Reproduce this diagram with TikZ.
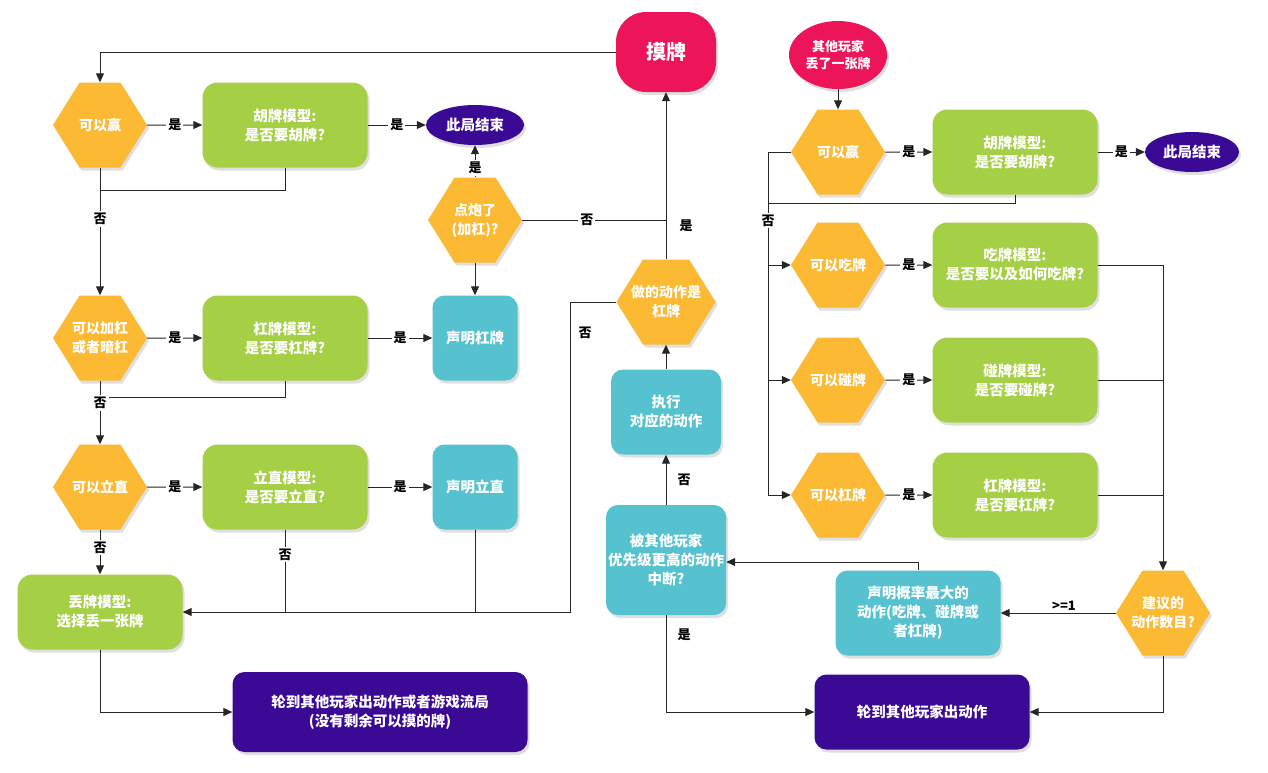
\documentclass[tikz,border=0pt]{standalone}
\usepackage{fontspec}
\setmainfont{Noto Sans CJK SC}
\usetikzlibrary{shapes.symbols,shapes.geometric,arrows.meta,shadows}
\definecolor{cor}{HTML}{FBB934}
\definecolor{cgr}{HTML}{A5CF45}
\definecolor{ctl}{HTML}{56C1CF}
\definecolor{cpu}{HTML}{3A0A94}
\definecolor{crd}{HTML}{EC1559}
\begin{document}
\begin{tikzpicture}[x=1pt,y=-1pt,
  base/.style={text=white,font=\bfseries\fontsize{14.5}{19}\selectfont,align=center,inner sep=2pt,drop shadow={opacity=0.25,shadow xshift=2pt,shadow yshift=-3pt}},
  hex/.style={base,signal,signal to=east and west,signal pointer angle=116,fill=cor,minimum width=94pt,minimum height=85pt,inner xsep=-12pt,font=\bfseries\fontsize{14}{19}\selectfont},
  gbox/.style={base,rounded corners=15pt,fill=cgr,minimum width=165pt,minimum height=85pt},
  tbox/.style={base,rounded corners=12pt,fill=ctl},
  pbox/.style={base,rounded corners=12pt,fill=cpu},
  oval/.style={base,ellipse,fill=cpu,minimum width=98pt,minimum height=40pt},
  ln/.style={draw=black!85,line width=1pt},
  ar/.style={ln,-{Triangle[length=9pt,width=8pt]}},
  lb/.style={fill=white,text=black,font=\bfseries\fontsize{13}{15}\selectfont,inner sep=2pt}]
\useasboundingbox (0,0) rectangle (1268,772);
% nodes
\node[base,rounded corners=30pt,fill=crd,minimum width=100pt,minimum height=80pt,font=\bfseries\fontsize{20}{24}\selectfont] (mo) at (666,52) {摸牌};
\node[base,ellipse,fill=crd,minimum width=98pt,minimum height=68pt,font=\bfseries\fontsize{13}{17}\selectfont] (other) at (838,55) {其他玩家\\丢了一张牌};
\node[hex] (win1) at (100,125) {可以赢};
\node[gbox] (hu1) at (285,125) {胡牌模型:\\是否要胡牌?};
\node[oval] (end1) at (475,125) {此局结束};
\node[hex] (pao) at (475,220) {点炮了\\(加杠)?};
\node[hex] (jg) at (100,338) {可以加杠\\或者暗杠};
\node[gbox] (gm1) at (285,338) {杠牌模型:\\是否要杠牌?};
\node[tbox,minimum width=85pt,minimum height=85pt] (sg) at (475,338) {声明杠牌};
\node[hex] (lz) at (100,487) {可以立直};
\node[gbox] (lzm) at (285,487) {立直模型:\\是否要立直?};
\node[tbox,minimum width=85pt,minimum height=85pt] (slz) at (475,487) {声明立直};
\node[gbox,minimum height=75pt] (diu) at (100,612) {丢牌模型:\\选择丢一张牌};
\node[pbox,minimum width=295pt,minimum height=80pt] (turn1) at (380,712) {轮到其他玩家出动作或者游戏流局\\(没有剩余可以摸的牌)};
\node[hex] (isg) at (666,302) {做的动作是\\杠牌};
\node[tbox,minimum width=110pt,minimum height=85pt] (exe) at (666,412) {执行\\对应的动作};
\node[tbox,minimum width=115pt,minimum height=110pt] (intr) at (666,560) {被其他玩家\\优先级更高的动作\\中断?};
\node[pbox,minimum width=215pt,minimum height=75pt] (turn2) at (922,712) {轮到其他玩家出动作};
\node[tbox,minimum width=165pt,minimum height=85pt] (decl) at (918,613) {声明概率最大的\\动作(吃牌、碰牌或\\者杠牌)};
\node[hex] (num) at (1163,613) {建议的\\动作数目?};
\node[hex] (win2) at (838,152) {可以赢};
\node[gbox] (hu2) at (1015,152) {胡牌模型:\\是否要胡牌?};
\node[oval,minimum width=94pt] (end2) at (1192,152) {此局结束};
\node[hex] (chi) at (838,265) {可以吃牌};
\node[gbox] (chim) at (1015,265) {吃牌模型:\\是否要以及如何吃牌?};
\node[hex] (peng) at (838,380) {可以碰牌};
\node[gbox] (pengm) at (1015,380) {碰牌模型:\\是否要碰牌?};
\node[hex] (gang) at (838,495) {可以杠牌};
\node[gbox] (gangm) at (1015,495) {杠牌模型:\\是否要杠牌?};
% left connectors
\draw[ar] (mo.west) -- (100,52) -- (win1.north);
\draw[ar] (win1) -- node[lb]{是} (hu1);
\draw[ar] (hu1) -- node[lb]{是} (end1);
\draw[ln] (hu1.south) -- (285,190) -- (100,190);
\draw[ar] (win1.south) -- node[lb,pos=0.4]{否} (jg.north);
\draw[ar] (pao.north) -- node[lb,pos=0.3]{是} (end1.south);
\draw[ar] (pao.south) -- (sg.north);
\draw[ln] (pao.east) -- node[lb,pos=0.45]{否} (666,220);
\draw[ar] (isg.north) -- node[lb,pos=0.2,xshift=20pt]{是} (mo.south);
\draw[ar] (jg) -- node[lb]{是} (gm1);
\draw[ar] (gm1) -- node[lb]{是} (sg);
\draw[ln] (gm1.south) -- (285,397) -- (100,397);
\draw[ar] (jg.south) -- node[lb,pos=0.35]{否} (lz.north);
\draw[ar] (lz) -- node[lb]{是} (lzm);
\draw[ar] (lzm) -- node[lb]{是} (slz);
\draw[ar] (lz.south) -- node[lb,pos=0.4]{否} (diu.north);
\draw[ln] (lzm.south) -- node[lb,pos=0.3]{否} (285,612);
\draw[ln] (slz.south) -- (475,612);
\draw[ar] (isg.west) -- (570,302) -- node[lb,pos=0.1,xshift=15pt]{否} (570,612) -- (diu.east);
\draw[ar] (diu.south) -- (100,712) -- (turn1.west);
% middle
\draw[ar] (exe.north) -- (isg.south);
\draw[ar] (intr.north) -- node[lb,xshift=18pt]{否} (exe.south);
\draw[ar] (intr.south) -- node[lb,pos=0.2,xshift=18pt]{是} (666,712) -- (turn2.west);
% right
\draw[ar] (other.south) -- (win2.north);
\draw[ar] (win2) -- node[lb]{是} (hu2);
\draw[ar] (hu2) -- node[lb]{是} (end2);
\draw[ln] (hu2.south) -- (1015,203) -- (768,203);
\draw[ln] (win2.west) -- (768,152) -- node[lb,pos=0.2]{否} (768,495);
\draw[ar] (768,265) -- (chi.west);
\draw[ar] (768,380) -- (peng.west);
\draw[ar] (768,495) -- (gang.west);
\draw[ar] (chi) -- node[lb]{是} (chim);
\draw[ar] (peng) -- node[lb]{是} (pengm);
\draw[ar] (gang) -- node[lb]{是} (gangm);
\draw[ln] (chim.east) -- (1163,265);
\draw[ln] (pengm.east) -- (1163,380);
\draw[ln] (gangm.east) -- (1163,495);
\draw[ar] (1163,265) -- (num.north);
\draw[ar] (num.west) -- node[lb,above,fill=none,pos=0.45]{>=1} (decl.east);
\draw[ar] (decl.north) -- (918,562) -- (intr.east |- 0,562);
\draw[ar] (num.south) -- (1163,712) -- (turn2.east);
\end{tikzpicture}
\end{document}
